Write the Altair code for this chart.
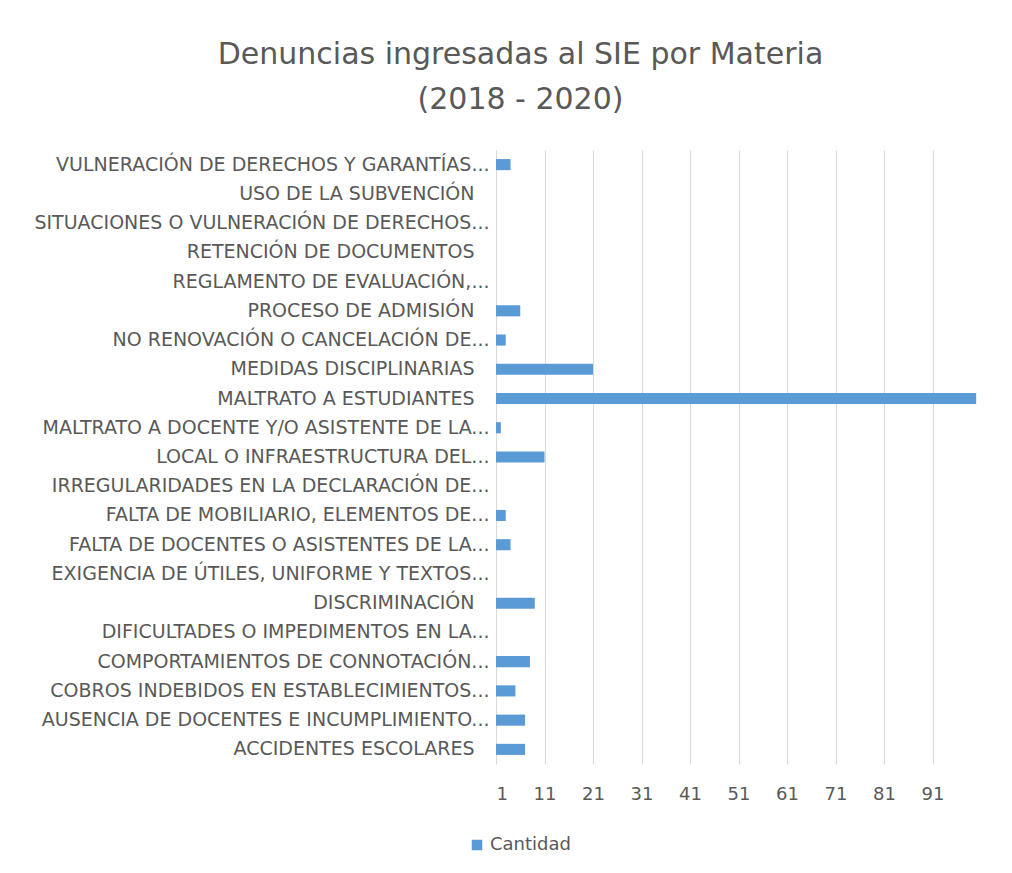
import altair as alt
import pandas as pd

categories = [
    "VULNERACIÓN DE DERECHOS Y GARANTÍAS...",
    "USO DE LA SUBVENCIÓN",
    "SITUACIONES O VULNERACIÓN DE DERECHOS...",
    "RETENCIÓN DE DOCUMENTOS",
    "REGLAMENTO DE EVALUACIÓN,...",
    "PROCESO DE ADMISIÓN",
    "NO RENOVACIÓN O CANCELACIÓN DE...",
    "MEDIDAS DISCIPLINARIAS",
    "MALTRATO A ESTUDIANTES",
    "MALTRATO A DOCENTE Y/O ASISTENTE DE LA...",
    "LOCAL O INFRAESTRUCTURA DEL...",
    "IRREGULARIDADES EN LA DECLARACIÓN DE...",
    "FALTA DE MOBILIARIO, ELEMENTOS DE...",
    "FALTA DE DOCENTES O ASISTENTES DE LA...",
    "EXIGENCIA DE ÚTILES, UNIFORME Y TEXTOS...",
    "DISCRIMINACIÓN",
    "DIFICULTADES O IMPEDIMENTOS EN LA...",
    "COMPORTAMIENTOS DE CONNOTACIÓN...",
    "COBROS INDEBIDOS EN ESTABLECIMIENTOS...",
    "AUSENCIA DE DOCENTES E INCUMPLIMIENTO...",
    "ACCIDENTES ESCOLARES",
]
values = [4, 1, 1, 1, 1, 6, 3, 21, 100, 2, 11, 1, 3, 4, 1, 9, 1, 8, 5, 7, 7]
x_ticks = [1, 11, 21, 31, 41, 51, 61, 71, 81, 91]

df = pd.DataFrame({"Materia": categories, "Cantidad": values})

GRAY = "#595959"
FONT = "DejaVu Sans"

chart = (
    alt.Chart(df)
    .mark_bar(color="#5b9bd5")
    .encode(
        y=alt.Y(
            "Materia:N",
            sort=categories,
            title=None,
            scale=alt.Scale(paddingInner=0.62, paddingOuter=0.31),
            axis=alt.Axis(
                domain=False, ticks=False, grid=False,
                labelFontSize=19, labelColor=GRAY, labelFont=FONT,
                labelPadding=alt.condition(
                    "indexof(datum.label, '...') >= 0", alt.value(7), alt.value(22)
                ),
                labelLimit=600,
            ),
        ),
        x=alt.X(
            "Cantidad:Q",
            title=None,
            scale=alt.Scale(domain=[1, 101], nice=False, zero=False),
            axis=alt.Axis(
                values=x_ticks, domain=False, ticks=False,
                grid=True, gridColor="#d9d9d9", gridWidth=1,
                labelFontSize=18, labelColor=GRAY, labelFont=FONT,
                labelPadding=21,
            ),
        ),
        x2=alt.datum(1),
        color=alt.Color(
            "serie:N",
            scale=alt.Scale(range=["#5b9bd5"]),
            legend=alt.Legend(
                title=None, orient="none", legendX=-28, legendY=686,
                symbolType="square", symbolSize=110, symbolStrokeWidth=0,
                labelFontSize=18, labelColor=GRAY, labelFont=FONT,
            ),
        ),
    )
    .transform_calculate(serie="'Cantidad'")
    .properties(
        width=485,
        height=614,
        title=alt.Title(
            ["Denuncias ingresadas al SIE por Materia", "(2018 - 2020)"],
            fontSize=30, font=FONT, fontWeight="normal", color=GRAY,
            anchor="middle", frame="group", dx=-218, offset=35, lineHeight=45,
        ),
        autosize=alt.AutoSizeParams(type="none"),
        padding={"left": 488, "top": 142, "right": 23, "bottom": 100},
    )
    .configure_view(stroke=None)
)

chart.save("out.html", embed_options={"renderer": "svg", "actions": False})
